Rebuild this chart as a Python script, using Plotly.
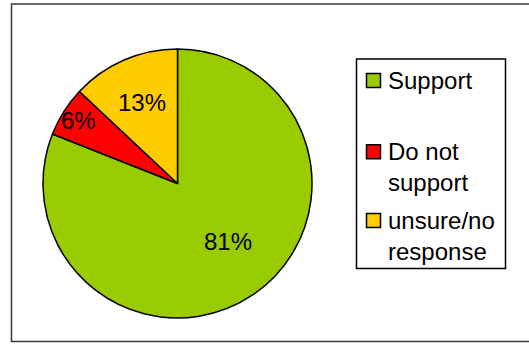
import math
import plotly.graph_objects as go

# Survey responses
labels = ["Support", "Do not support", "unsure/no response"]
legend_text = ["Support", "Do not<br>support", "unsure/no<br>response"]
values = [81, 6, 13]
colors = ["#99CC00", "#FF0000", "#FFCC00"]

W, H = 529, 345
FONT = "Liberation Sans, Arial, sans-serif"

# pie geometry in pixels
cx, cy, r = 177.5, 183.5, 134.5


def px(x):
    return x / W


def py(y):
    return 1 - y / H


fig = go.Figure(
    go.Pie(
        labels=labels,
        values=values,
        sort=False,
        direction="clockwise",
        rotation=0,
        marker=dict(colors=colors, line=dict(color="#000000", width=1.5)),
        textinfo="none",
        showlegend=False,
        domain=dict(x=[px(cx - r), px(cx + r)], y=[py(cy + r), py(cy - r)]),
    )
)

shapes = []
annotations = []

# percentage labels placed along each slice's mid-angle
label_radius = [0.575, 0.87, 0.66]
label_shift = [-7, 0, 0]
total = sum(values)
start = 0.0
for v, fr, sh in zip(values, label_radius, label_shift):
    frac = v / total
    mid = math.radians((start + frac / 2) * 360 + sh)
    start += frac
    lx = cx + r * fr * math.sin(mid)
    ly = cy - r * fr * math.cos(mid)
    annotations.append(dict(
        x=px(lx), y=py(ly), xref="paper", yref="paper",
        text=f"{round(frac * 100)}%", showarrow=False,
        xanchor="center", yanchor="middle",
        font=dict(family=FONT, size=24, color="#000000"),
    ))

# outer frame
shapes.append(dict(type="rect", xref="paper", yref="paper",
                   x0=px(11.5), x1=px(540), y0=py(341.5), y1=py(4),
                   line=dict(color="#3a3a3a", width=1.5)))

# legend box
shapes.append(dict(type="rect", xref="paper", yref="paper",
                   x0=px(356.5), x1=px(505.5), y0=py(268.5), y1=py(59),
                   line=dict(color="#000000", width=1.5)))

item_y = [80.5, 151.7, 220.5]
for text, col, yc in zip(legend_text, colors, item_y):
    shapes.append(dict(type="rect", xref="paper", yref="paper",
                       x0=px(366.5), x1=px(380.5), y0=py(yc + 7), y1=py(yc - 7),
                       fillcolor=col, line=dict(color="#000000", width=1.5)))
    annotations.append(dict(
        x=px(386), y=py(yc - 15.5), xref="paper", yref="paper",
        text=text, showarrow=False, align="left",
        xanchor="left", yanchor="top",
        font=dict(family=FONT, size=24, color="#000000"),
    ))

fig.update_layout(
    width=W, height=H,
    margin=dict(l=0, r=0, t=0, b=0),
    paper_bgcolor="#FFFFFF",
    plot_bgcolor="#FFFFFF",
    shapes=shapes,
    annotations=annotations,
)

fig.write_html("out.html")
